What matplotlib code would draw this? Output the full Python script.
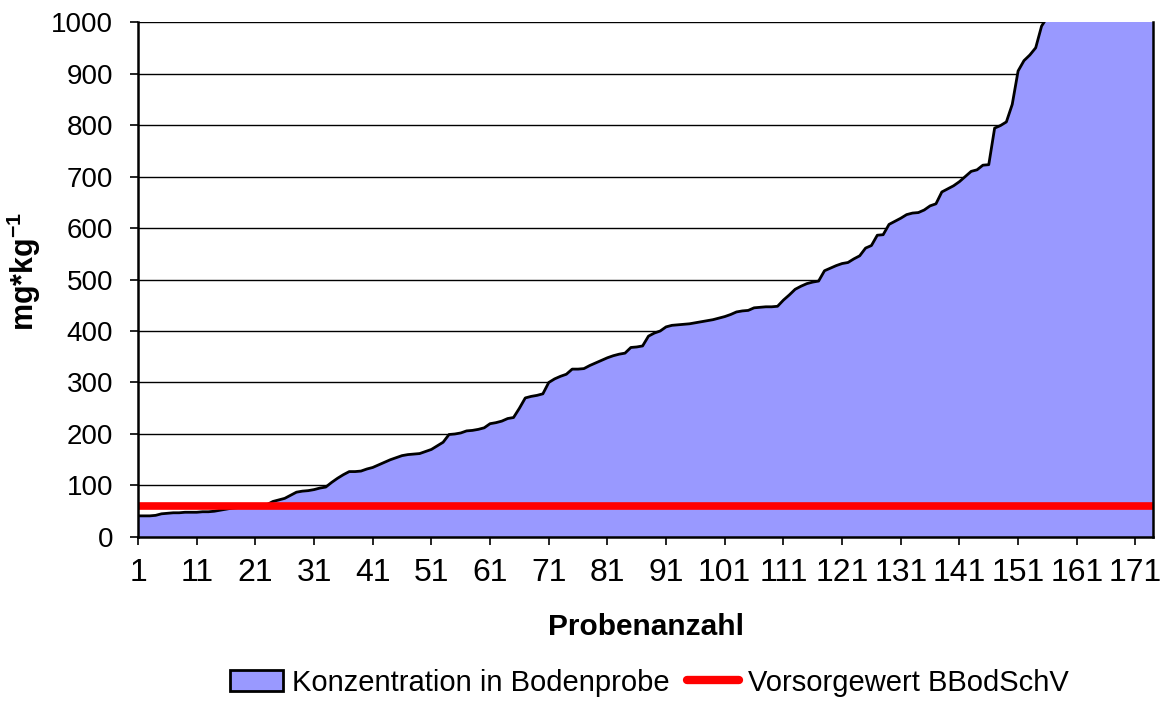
import numpy as np
import matplotlib
matplotlib.use('Agg')
import matplotlib.pyplot as plt
from matplotlib.patches import Patch
from matplotlib.lines import Line2D

plt.rcParams['font.family'] = ['Liberation Sans', 'DejaVu Sans']
plt.rcParams['mathtext.fontset'] = 'custom'
plt.rcParams['mathtext.rm'] = 'Liberation Sans'
plt.rcParams['mathtext.bf'] = 'Liberation Sans:bold'

# sorted soil sample concentrations (mg/kg)
konz = [41, 41, 41, 42, 45, 46, 47, 47, 48, 48,
        48, 49, 49, 50, 52, 54, 56, 57, 58, 59,
        60, 61, 63, 69, 72, 75, 81, 87, 89, 90,
        92, 95, 97, 106, 114, 121, 127, 127, 128, 132,
        135, 140, 145, 150, 154, 158, 160, 161, 162, 166,
        170, 177, 184, 199, 200, 202, 206, 207, 209, 212,
        220, 222, 225, 230, 232, 250, 270, 273, 275, 278,
        300, 307, 312, 316, 326, 326, 327, 333, 338, 343,
        348, 352, 355, 357, 368, 369, 371, 390, 396, 400,
        408, 411, 412, 413, 414, 416, 418, 420, 422, 425,
        428, 432, 437, 439, 440, 445, 446, 447, 447, 448,
        460, 470, 481, 487, 492, 495, 497, 517, 522, 527,
        531, 533, 540, 546, 561, 566, 586, 587, 607, 613,
        619, 626, 629, 630, 635, 643, 647, 670, 676, 682,
        690, 700, 710, 713, 722, 723, 794, 799, 806, 840,
        905, 925, 936, 950, 992, 1010, 1030, 1060, 1100, 1150,
        1200, 1260, 1330, 1400, 1500, 1600, 1750, 1900, 2100, 2400,
        2800, 3300, 4000, 5200]
vorsorgewert = 60
proben = np.arange(1, len(konz) + 1)

fig = plt.figure(figsize=(11.6, 7.06), dpi=100)
ax = fig.add_axes([0.119, 0.2394, 0.875, 0.7294])

ax.fill_between(proben, konz, color='#9999FF', lw=0, zorder=2)
ax.plot(proben, konz, color='black', lw=2, zorder=3)
ax.plot(proben, [vorsorgewert] * len(proben), color='#FF0000', lw=5.5,
        solid_capstyle='butt', zorder=4)

ax.set_xlim(1, len(konz))
ax.set_ylim(0, 1000)
ax.set_xticks(np.arange(1, 172, 10))
ax.set_yticks(np.arange(0, 1001, 100))
ax.yaxis.grid(True, color='black', lw=1)
ax.set_axisbelow(True)

for s in ['left', 'bottom', 'right']:
    ax.spines[s].set_linewidth(1.8)
    ax.spines[s].set_color('black')
    ax.spines[s].set_zorder(5)
ax.spines['top'].set_visible(False)

ax.tick_params(axis='y', labelsize=20, length=6, width=1.2, pad=12)
ax.tick_params(axis='x', labelsize=23, length=6, width=1.2, pad=9)

ax.set_xlabel('Probenanzahl', fontsize=21.5, fontweight='bold', labelpad=18)
ax.set_ylabel(r'mg*kg$^{\mathbf{-1}}$', fontsize=22, fontweight='bold')
ax.yaxis.set_label_coords(-0.094, 0.515)

handles = [Patch(facecolor='#9999FF', edgecolor='black', lw=2),
           Line2D([], [], color='#FF0000', lw=6, solid_capstyle='round')]
labels = ['Konzentration in Bodenprobe', 'Vorsorgewert BBodSchV']
fig.legend(handles, labels, loc='center', bbox_to_anchor=(0.560, 0.033), ncol=2,
           frameon=False, fontsize=21, handlelength=1.8, handletextpad=0.3,
           columnspacing=0.6)

fig.savefig('out.png', dpi=100)
